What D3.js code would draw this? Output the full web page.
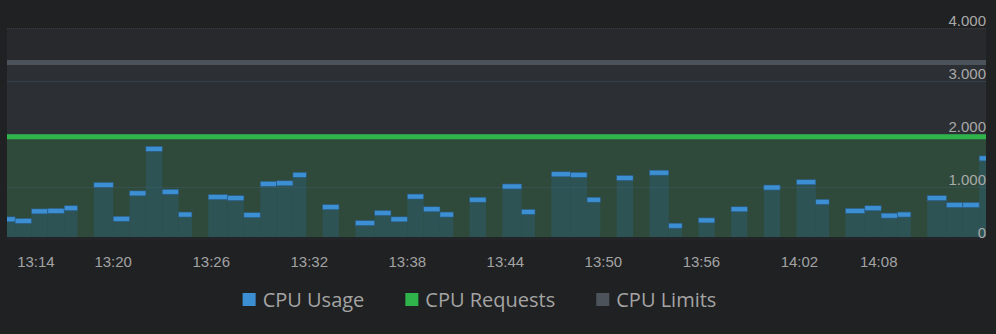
<!DOCTYPE html>
<html>
<head>
<meta charset="utf-8">
<script src="https://cdn.jsdelivr.net/npm/d3@7"></script>
<style>
  body { margin: 0; background: #202123; }
  svg { display: block; }
</style>
</head>
<body>
<div id="chart"></div>
<script>
/* CPU usage vs requests / limits, one bar per minute */

const minutes = ["13:13","13:14","13:15","13:16","13:17","13:18","13:19","13:20","13:21","13:22",
                 "13:23","13:24","13:25","13:26","13:27","13:28","13:29","13:30","13:31","13:32",
                 "13:33","13:34","13:35","13:36","13:37","13:38","13:39","13:40","13:41","13:42",
                 "13:43","13:44","13:45","13:46","13:47","13:48","13:49","13:50","13:51","13:52",
                 "13:53","13:54","13:55","13:56","13:57","13:58","13:59","14:00","14:01","14:02",
                 "14:03","14:04","14:05","14:06","14:07","14:08","14:09","14:10","14:11","14:12","14:13"];

const usage = [390, 360, 540, 550, 600, null, 1040, 400, 880, 1720,
               910, 480, null, 810, 790, 470, 1060, 1070, 1230, null,
               620, null, 320, 510, 390, 820, 580, 480, null, 760,
               null, 1010, 530, null, 1240, 1230, 760, null, 1170, null,
               1270, 270, null, 370, null, 580, null, 990, null, 1090,
               720, null, 550, 600, 460, 480, null, 790, 660, 660, 1540];

const cpuRequests = 1950;
const cpuLimits = 3350;

const xTicks = ["13:14","13:20","13:26","13:32","13:38","13:44","13:50","13:56","14:02","14:08"];
const yTicks = [0, 1000, 2000, 3000, 4000];

const legendNames = ["CPU Usage", "CPU Requests", "CPU Limits"];
const legendColors = ["#3d8fd3", "#2fb34b", "#4c535b"];

const width = 996, height = 334;
const margin = ({ top: 28, right: 10, bottom: 94, left: 7 });

const parse = d3.timeParse("%H:%M");
// a bar that starts or ends a run (next to a gap) is pulled in a few px, as in the original
const data = minutes.map((m, i) => ({
    t: parse(m),
    v: usage[i],
    first: i > 0 && usage[i - 1] === null,
    last: i < usage.length - 1 && usage[i + 1] === null
})).filter(d => d.v !== null);

const svg = d3.select("#chart")
    .append("svg")
    .attr("width", width)
    .attr("height", height);

const x = d3.scaleTime()
    .domain([d3.timeParse("%H:%M:%S")("13:13:30"), d3.timeParse("%H:%M:%S")("14:13:25")])
    .range([margin.left, width - margin.right]);

const y = d3.scaleLinear()
    .domain([0, 4000])
    .range([height - margin.bottom, margin.top]);

const fmt = d3.formatLocale({ decimal: ",", thousands: ".", grouping: [3], currency: ["", ""] }).format(",");

svg.append("clipPath").attr("id", "plot")
  .append("rect")
    .attr("x", x.range()[0]).attr("y", y(4000))
    .attr("width", x.range()[1] - x.range()[0]).attr("height", y(0) - y(4000));

const plot = svg.append("g").attr("clip-path", "url(#plot)");

// background and filled areas for limits / requests
plot.append("rect")
    .attr("x", x.range()[0]).attr("y", y(4000))
    .attr("width", x.range()[1] - x.range()[0]).attr("height", y(0) - y(4000))
    .attr("fill", "#28292c");

plot.append("rect")
    .attr("x", x.range()[0]).attr("y", y(cpuLimits))
    .attr("width", x.range()[1] - x.range()[0]).attr("height", y(0) - y(cpuLimits))
    .attr("fill", "#2c2f33");

plot.append("rect")
    .attr("x", x.range()[0]).attr("y", y(cpuRequests))
    .attr("width", x.range()[1] - x.range()[0]).attr("height", y(0) - y(cpuRequests))
    .attr("fill", "#2f4a3a");

// usage bars
const x0 = d => x(d.t) - (d.first ? 3 : 0);
const x1 = d => x(d3.timeMinute.offset(d.t, 1)) - (d.last ? 3 : 0);

plot.selectAll(".bar")
    .data(data)
    .join("rect")
    .attr("class", "bar")
    .attr("x", x0)
    .attr("width", d => x1(d) - x0(d))
    .attr("y", d => y(d.v))
    .attr("height", d => y(0) - y(d.v))
    .attr("fill", "#2e5354");

// gridlines
plot.selectAll(".grid")
    .data(yTicks.filter(v => v > 0))
    .join("line")
    .attr("x1", x.range()[0]).attr("x2", x.range()[1])
    .attr("y1", d => y(d) + 0.5).attr("y2", d => y(d) + 0.5)
    .attr("stroke", d => d === 4000 ? "#3b3c3f" : "#46607a")
    .attr("stroke-opacity", d => d === 4000 ? 1 : 0.35)
    .attr("stroke-dasharray", d => d === 4000 ? "1,1" : null);

// limits and requests lines
plot.append("line")
    .attr("x1", x.range()[0]).attr("x2", x.range()[1])
    .attr("y1", y(cpuLimits)).attr("y2", y(cpuLimits))
    .attr("stroke", "#4b525a").attr("stroke-width", 5);

plot.append("line")
    .attr("x1", x.range()[0]).attr("x2", x.range()[1])
    .attr("y1", y(cpuRequests)).attr("y2", y(cpuRequests))
    .attr("stroke", "#2fb34b").attr("stroke-width", 5);

// caps on top of each usage bar
plot.selectAll(".cap")
    .data(data)
    .join("rect")
    .attr("class", "cap")
    .attr("x", x0)
    .attr("width", d => x1(d) - x0(d))
    .attr("y", d => y(d.v) - 2.5)
    .attr("height", 5)
    .attr("fill", "#3d8fd3")
    .attr("stroke", "#2a5a80")
    .attr("stroke-width", 0.6);

// baseline
svg.append("line")
    .attr("x1", x.range()[0]).attr("x2", x.range()[1])
    .attr("y1", y(0) - 1.5).attr("y2", y(0) - 1.5)
    .attr("stroke", "#232427").attr("stroke-width", 3);

// y labels (inside, right)
svg.selectAll(".ylab")
    .data(yTicks)
    .join("text")
    .attr("x", x.range()[1])
    .attr("y", d => y(d) - 2.5)
    .attr("text-anchor", "end")
    .attr("font-family", "Liberation Sans, Arial, sans-serif")
    .attr("font-size", 15)
    .attr("fill", "#a9a9a9")
    .text(d => fmt(d));

// x labels: first one left aligned, last one right aligned
svg.selectAll(".xlab")
    .data(xTicks)
    .join("text")
    .attr("x", d => x(parse(d)))
    .attr("y", 267)
    .attr("text-anchor", (d, i) => i === 0 ? "start" : (i === xTicks.length - 1 ? "end" : "middle"))
    .attr("dx", (d, i) => i === 0 ? 2 : 0)
    .attr("font-family", "Liberation Sans, Arial, sans-serif")
    .attr("font-size", 15)
    .attr("fill", "#a3a3a3")
    .text(d => d);

// legend
const legend = svg.append("g");
let lx = 0;
legendNames.forEach((name, i) => {
    const g = legend.append("g").attr("transform", `translate(${lx},0)`);
    g.append("rect")
        .attr("x", 0).attr("y", 293)
        .attr("width", 13).attr("height", 13)
        .attr("fill", legendColors[i]);
    const t = g.append("text")
        .attr("x", 20).attr("y", 307)
        .attr("font-family", "Open Sans, sans-serif")
        .attr("font-size", 20)
        .attr("fill", "#a4a4a4")
        .text(name);
    lx += 20 + t.node().getComputedTextLength() + 41;
});
const legendWidth = lx - 41;
legend.attr("transform", `translate(${479.5 - legendWidth / 2},0)`);
</script>
</body>
</html>
